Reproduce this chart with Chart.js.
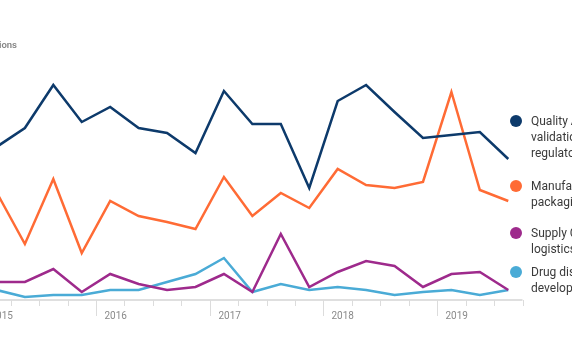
<!DOCTYPE html>
<html>
<head>
<meta charset="utf-8">
<script src="https://cdn.jsdelivr.net/npm/chart.js@4"></script>
<style>
html, body { margin: 0; padding: 0; background: #fff; overflow: hidden; }
#wrap { position: relative; width: 572px; height: 364px; overflow: hidden; }
.leg { position: absolute; left: 510px; font: 12px Roboto, sans-serif; color: #3a3a3a; line-height: 16px; white-space: nowrap; }
.leg i { position: absolute; left: 0; top: 2px; width: 12px; height: 12px; border-radius: 50%; }
.leg span { display: block; margin-left: 21px; }
</style>
</head>
<body>
<div id="wrap">
  <canvas id="chart" width="572" height="364"></canvas>
</div>
<script>
// quarters shown on the x axis
const quarters = ['2015 Q1', '2015 Q2', '2015 Q3', '2015 Q4',
  '2016 Q1', '2016 Q2', '2016 Q3', '2016 Q4',
  '2017 Q1', '2017 Q2', '2017 Q3', '2017 Q4',
  '2018 Q1', '2018 Q2', '2018 Q3', '2018 Q4',
  '2019 Q1', '2019 Q2', '2019 Q3'];
const years = ['2015', '2016', '2017', '2018', '2019'];

const quality = [153, 172, 215, 178, 193, 172, 167, 147, 209, 176, 176, 112, 199, 215, 188, 162, 165, 168, 141];
const manufacturing = [108, 56, 121, 47, 99, 84, 78, 71, 123, 84, 107, 92, 131, 115, 112, 118, 208, 110, 99];
const supply = [18, 18, 31, 8, 26, 16, 10, 13, 26, 8, 66, 13, 28, 39, 34, 13, 26, 28, 10];
const drug = [10, 3, 5, 5, 10, 10, 18, 26, 42, 8, 16, 10, 13, 10, 5, 8, 10, 5, 10];

const seriesNames = [
  ['Quality Assurance,', 'validation and', 'regulatory affairs'],
  ['Manufacturing,', 'packaging'],
  ['Supply Chain,', 'logistics'],
  ['Drug discovery,', 'development']
];
const colors = ['#0d3a6b', '#ff6b35', '#9e2a8c', '#4aabd6'];
const legendTops = [113, 178, 225, 264];

// legend on the right
const wrap = document.getElementById('wrap');
seriesNames.forEach((lines, i) => {
  const d = document.createElement('div');
  d.className = 'leg';
  d.style.top = legendTops[i] + 'px';
  d.innerHTML = '<i style="background:' + colors[i] + '"></i>' +
    lines.map(t => '<span>' + t + '</span>').join('');
  wrap.appendChild(d);
});

function toPoints(arr) {
  return arr.map((v, i) => ({ x: i, y: v }));
}

// axis line, quarter ticks, year labels and the y title
const axisPlugin = {
  id: 'axisPlugin',
  afterDraw(chart) {
    const ctx = chart.ctx;
    const xs = chart.scales.x;
    const area = chart.chartArea;
    ctx.save();
    ctx.strokeStyle = '#d4d4d4';
    ctx.lineWidth = 1.5;
    ctx.beginPath();
    ctx.moveTo(area.left, area.bottom);
    ctx.lineTo(area.right, area.bottom);
    ctx.stroke();
    ctx.lineWidth = 1;
    ctx.strokeStyle = '#dcdcdc';
    for (let k = 0; k <= quarters.length; k++) {
      const px = Math.round(xs.getPixelForValue(k - 0.5)) + 0.5;
      const major = k % 4 === 0;
      ctx.beginPath();
      ctx.moveTo(px, area.bottom);
      ctx.lineTo(px, area.bottom + (major ? 16 : 6));
      ctx.stroke();
      if (major) {
        ctx.fillStyle = '#8a8a8a';
        ctx.font = '10px Roboto, sans-serif';
        ctx.textAlign = 'left';
        ctx.textBaseline = 'alphabetic';
        ctx.fillText(years[k / 4], px + 8, area.bottom + 19);
      }
    }
    ctx.fillStyle = '#858585';
    ctx.font = '600 9.5px Roboto, sans-serif';
    ctx.textAlign = 'right';
    ctx.fillText('Number of publications', 17, 48);
    ctx.restore();
  }
};

new Chart(document.getElementById('chart'), {
  type: 'line',
  data: {
    datasets: [
      { label: seriesNames[0].join(' '), data: toPoints(quality), borderColor: colors[0] },
      { label: seriesNames[1].join(' '), data: toPoints(manufacturing), borderColor: colors[1] },
      { label: seriesNames[2].join(' '), data: toPoints(supply), borderColor: colors[2] },
      { label: seriesNames[3].join(' '), data: toPoints(drug), borderColor: colors[3] }
    ]
  },
  options: {
    responsive: false,
    animation: false,
    layout: { padding: { left: 0, right: 49.5, top: 50, bottom: 64 } },
    elements: {
      line: { borderWidth: 2.5, tension: 0, fill: false },
      point: { radius: 0 }
    },
    plugins: { legend: { display: false }, tooltip: { enabled: false } },
    scales: {
      x: { type: 'linear', min: 0.125, max: 18.5, display: false },
      y: { min: 0, max: 250, display: false }
    }
  },
  plugins: [axisPlugin]
});
</script>
</body>
</html>
